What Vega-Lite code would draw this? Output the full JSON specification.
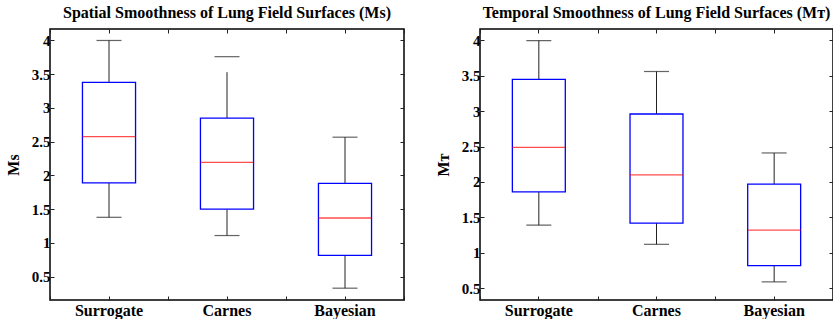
{
  "$schema": "https://vega.github.io/schema/vega-lite/v6.json",
  "background": "white",
  "padding": {"left": 4, "top": 3, "right": 0, "bottom": 0},
  "spacing": 28,
  "datasets": {
    "spatial": [
      {"method": "Surrogate", "lower": 1.38, "q1": 1.89, "median": 2.576, "q3": 3.38, "whiskerTop": 4.0, "upper": 4.0},
      {"method": "Carnes", "lower": 1.11, "q1": 1.5, "median": 2.195, "q3": 2.85, "whiskerTop": 3.53, "upper": 3.76},
      {"method": "Bayesian", "lower": 0.33, "q1": 0.815, "median": 1.37, "q3": 1.884, "whiskerTop": 2.567, "upper": 2.567}
    ],
    "temporal": [
      {"method": "Surrogate", "lower": 1.39, "q1": 1.86, "median": 2.49, "q3": 3.45, "whiskerTop": 3.995, "upper": 3.995},
      {"method": "Carnes", "lower": 1.12, "q1": 1.42, "median": 2.1, "q3": 2.96, "whiskerTop": 3.56, "upper": 3.56},
      {"method": "Bayesian", "lower": 0.59, "q1": 0.82, "median": 1.32, "q3": 1.97, "whiskerTop": 2.41, "upper": 2.41}
    ]
  },
  "config": {
    "view": {"stroke": "#000000", "strokeWidth": 1.5},
    "axis": {
      "domain": false,
      "grid": false,
      "labelFont": "Liberation Serif",
      "labelFontWeight": "bold",
      "labelColor": "#000000",
      "titleFont": "Liberation Serif",
      "titleFontWeight": "bold",
      "titleFontSize": 16,
      "titleColor": "#000000",
      "tickColor": "#222222",
      "tickWidth": 1,
      "tickSize": -4
    },
    "title": {
      "font": "Liberation Serif",
      "fontWeight": "bold",
      "fontSize": 16,
      "color": "#000000",
      "anchor": "middle",
      "frame": "group",
      "baseline": "alphabetic",
      "offset": 8
    }
  },
  "hconcat": [
    {
      "width": 354,
      "height": 271,
      "title": "Spatial Smoothness of Lung Field Surfaces (Ms)",
      "data": {"name": "spatial"},
      "resolve": {"axis": {"x": "independent", "y": "independent"}},
      "layer": [
        {
          "mark": {"type": "rule", "color": "#222222", "strokeWidth": 1},
          "encoding": {
            "x": {"field": "method", "type": "nominal", "sort": null, "scale": {"paddingInner": 0, "paddingOuter": 0},
                  "axis": {"orient": "bottom", "title": null, "labelAngle": 0, "labelFont": "Liberation Serif", "labelFontWeight": "bold", "labelFontSize": 16, "labelPadding": 6}},
            "y": {"field": "lower", "type": "quantitative", "scale": {"domain": [0.155, 4.17], "nice": false, "zero": false},
                  "axis": {"orient": "left", "title": "Ms", "values": [0.5, 1, 1.5, 2, 2.5, 3, 3.5, 4], "format": "~g", "labelFont": "Liberation Serif", "labelFontWeight": "bold", "labelFontSize": 15, "labelPadding": 4, "titlePadding": 10}},
            "y2": {"field": "q1"}
          }
        },
        {
          "mark": {"type": "rule", "color": "#222222", "strokeWidth": 1},
          "encoding": {
            "x": {"field": "method", "type": "nominal", "sort": null,
                  "axis": {"orient": "top", "title": null, "labels": false}},
            "y": {"field": "q3", "type": "quantitative",
                  "axis": {"orient": "right", "title": null, "labels": false, "values": [0.5, 1, 1.5, 2, 2.5, 3, 3.5, 4]}},
            "y2": {"field": "whiskerTop"}
          }
        },
        {
          "mark": {"type": "tick", "color": "#222222", "size": 25, "thickness": 1.2},
          "encoding": {
            "x": {"field": "method", "type": "nominal", "sort": null,
                  "axis": {"orient": "bottom", "title": null, "labels": false, "tickBand": "extent"}},
            "y": {"field": "upper", "type": "quantitative", "axis": null}
          }
        },
        {
          "mark": {"type": "tick", "color": "#222222", "size": 25, "thickness": 1.2},
          "encoding": {
            "x": {"field": "method", "type": "nominal", "sort": null,
                  "axis": {"orient": "top", "title": null, "labels": false, "tickBand": "extent"}},
            "y": {"field": "lower", "type": "quantitative", "axis": null}
          }
        },
        {
          "mark": {"type": "bar", "fill": "white", "stroke": "#0000ff", "strokeWidth": 1.3, "width": {"band": 0.45}},
          "encoding": {
            "x": {"field": "method", "type": "nominal", "sort": null, "axis": null},
            "y": {"field": "q1", "type": "quantitative", "axis": null},
            "y2": {"field": "q3"}
          }
        },
        {
          "mark": {"type": "tick", "color": "#ff0000", "size": 53, "thickness": 1.3},
          "encoding": {
            "x": {"field": "method", "type": "nominal", "sort": null, "axis": null},
            "y": {"field": "median", "type": "quantitative", "axis": null}
          }
        }
      ]
    },
    {
      "width": 353,
      "height": 271,
      "title": "Temporal Smoothness of Lung Field Surfaces (Mᴛ)",
      "data": {"name": "temporal"},
      "resolve": {"axis": {"x": "independent", "y": "independent"}},
      "layer": [
        {
          "mark": {"type": "rule", "color": "#222222", "strokeWidth": 1},
          "encoding": {
            "x": {"field": "method", "type": "nominal", "sort": null, "scale": {"paddingInner": 0, "paddingOuter": 0},
                  "axis": {"orient": "bottom", "title": null, "labelAngle": 0, "labelFont": "Liberation Serif", "labelFontWeight": "bold", "labelFontSize": 16, "labelPadding": 6}},
            "y": {"field": "lower", "type": "quantitative", "scale": {"domain": [0.334, 4.16], "nice": false, "zero": false},
                  "axis": {"orient": "left", "title": "Mᴛ", "values": [0.5, 1, 1.5, 2, 2.5, 3, 3.5, 4], "format": "~g", "labelFont": "Liberation Serif", "labelFontWeight": "bold", "labelFontSize": 15, "labelPadding": 4, "titlePadding": 10}},
            "y2": {"field": "q1"}
          }
        },
        {
          "mark": {"type": "rule", "color": "#222222", "strokeWidth": 1},
          "encoding": {
            "x": {"field": "method", "type": "nominal", "sort": null,
                  "axis": {"orient": "top", "title": null, "labels": false}},
            "y": {"field": "q3", "type": "quantitative",
                  "axis": {"orient": "right", "title": null, "labels": false, "values": [0.5, 1, 1.5, 2, 2.5, 3, 3.5, 4]}},
            "y2": {"field": "whiskerTop"}
          }
        },
        {
          "mark": {"type": "tick", "color": "#222222", "size": 25, "thickness": 1.2},
          "encoding": {
            "x": {"field": "method", "type": "nominal", "sort": null,
                  "axis": {"orient": "bottom", "title": null, "labels": false, "tickBand": "extent"}},
            "y": {"field": "upper", "type": "quantitative", "axis": null}
          }
        },
        {
          "mark": {"type": "tick", "color": "#222222", "size": 25, "thickness": 1.2},
          "encoding": {
            "x": {"field": "method", "type": "nominal", "sort": null,
                  "axis": {"orient": "top", "title": null, "labels": false, "tickBand": "extent"}},
            "y": {"field": "lower", "type": "quantitative", "axis": null}
          }
        },
        {
          "mark": {"type": "bar", "fill": "white", "stroke": "#0000ff", "strokeWidth": 1.3, "width": {"band": 0.45}},
          "encoding": {
            "x": {"field": "method", "type": "nominal", "sort": null, "axis": null},
            "y": {"field": "q1", "type": "quantitative", "axis": null},
            "y2": {"field": "q3"}
          }
        },
        {
          "mark": {"type": "tick", "color": "#ff0000", "size": 53, "thickness": 1.3},
          "encoding": {
            "x": {"field": "method", "type": "nominal", "sort": null, "axis": null},
            "y": {"field": "median", "type": "quantitative", "axis": null}
          }
        }
      ]
    }
  ]
}
